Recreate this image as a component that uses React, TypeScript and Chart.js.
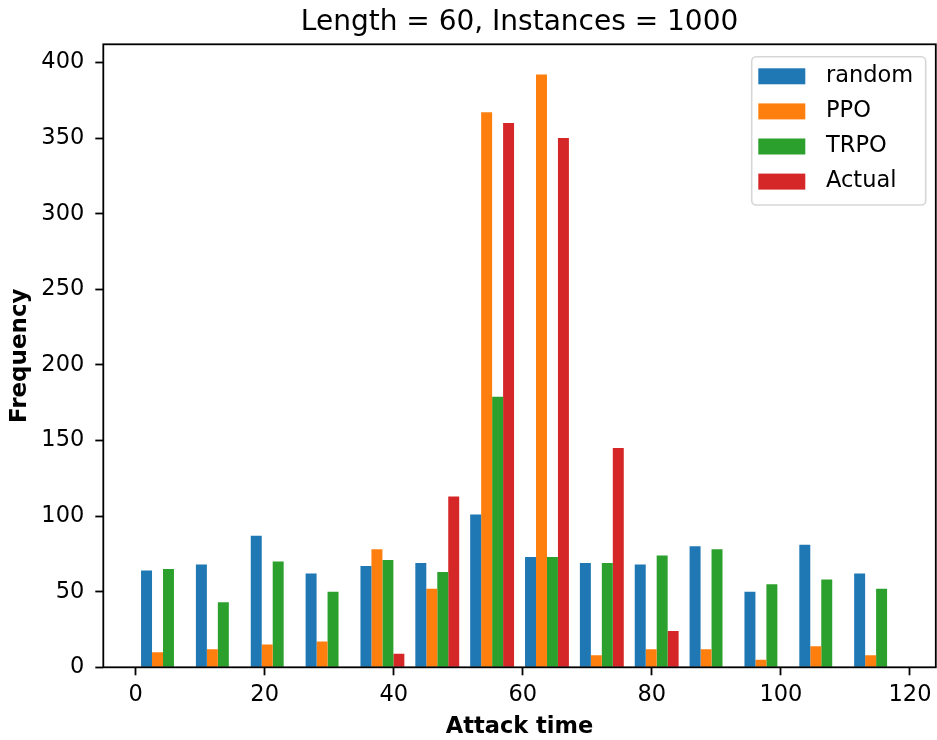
import React, { useEffect, useRef } from 'react';
import { Chart, registerables } from 'chart.js';

Chart.register(...registerables);

// Histogram bins (14 bins over 0..119), centres of each bin
const binCenters = [4.25, 12.75, 21.25, 29.75, 38.25, 46.75, 55.25, 63.75, 72.25, 80.75, 89.25, 97.75, 106.25, 114.75];

const randomCounts = [64, 68, 87, 62, 67, 69, 101, 73, 69, 68, 80, 50, 81, 62];
const ppoCounts = [10, 12, 15, 17, 78, 52, 367, 392, 8, 12, 12, 5, 14, 8];
const trpoCounts = [65, 43, 70, 50, 71, 63, 179, 73, 69, 74, 78, 55, 58, 52];
const actualCounts = [0, 0, 0, 0, 9, 113, 360, 350, 145, 24, 0, 0, 0, 0];

const seriesLabels = ['random', 'PPO', 'TRPO', 'Actual'];
const seriesColors = ['#1f77b4', '#ff7f0e', '#2ca02c', '#d62728'];

const xTicks = [0, 20, 40, 60, 80, 100, 120];
const yTicks = [0, 50, 100, 150, 200, 250, 300, 350, 400];

const titleText = 'Length = 60, Instances = 1000';
const xTitle = 'Attack time';
const yTitle = 'Frequency';

const FONT = "'DejaVu Sans', sans-serif";

function roundRectPath(ctx: CanvasRenderingContext2D, x: number, y: number, w: number, h: number, r: number) {
  ctx.beginPath();
  ctx.moveTo(x + r, y);
  ctx.lineTo(x + w - r, y);
  ctx.arcTo(x + w, y, x + w, y + r, r);
  ctx.lineTo(x + w, y + h - r);
  ctx.arcTo(x + w, y + h, x + w - r, y + h, r);
  ctx.lineTo(x + r, y + h);
  ctx.arcTo(x, y + h, x, y + h - r, r);
  ctx.lineTo(x, y + r);
  ctx.arcTo(x, y, x + r, y, r);
  ctx.closePath();
}

const decorPlugin = {
  id: 'mplDecor',
  afterDatasetsDraw(chart: any) {
    const { ctx, chartArea: a } = chart;
    ctx.save();
    ctx.strokeStyle = '#000';
    ctx.lineWidth = 1.8;
    ctx.strokeRect(a.left, a.top, a.right - a.left, a.bottom - a.top);
    ctx.restore();
  },
  afterDraw(chart: any) {
    const { ctx, chartArea: a } = chart;
    ctx.save();
    // title
    ctx.fillStyle = '#000';
    ctx.font = `28px ${FONT}`;
    ctx.textAlign = 'center';
    ctx.textBaseline = 'alphabetic';
    ctx.fillText(titleText, (a.left + a.right) / 2, 30);

    // legend
    const bx = 751.7, by = 56.7, bw = 174, bh = 148.3;
    roundRectPath(ctx, bx, by, bw, bh, 4.5);
    ctx.fillStyle = 'rgba(255,255,255,0.8)';
    ctx.fill();
    ctx.strokeStyle = 'rgba(204,204,204,0.8)';
    ctx.lineWidth = 1.6;
    ctx.stroke();

    ctx.font = `22.5px ${FONT}`;
    ctx.textAlign = 'left';
    ctx.textBaseline = 'middle';
    chart.data.datasets.forEach((ds: any, i: number) => {
      const cy = 76.3 + 35.1 * i;
      ctx.fillStyle = ds.backgroundColor;
      ctx.fillRect(758.3, cy - 8, 47, 16);
      ctx.fillStyle = '#000';
      ctx.fillText(ds.label, 826, cy);
    });
    ctx.restore();
  },
};

export default function App() {
  const canvasRef = useRef<HTMLCanvasElement | null>(null);

  useEffect(() => {
    const canvas = canvasRef.current;
    if (!canvas) return;
    const seriesData = [randomCounts, ppoCounts, trpoCounts, actualCounts];
    const chart = new Chart(canvas, {
      type: 'bar',
      data: {
        datasets: seriesData.map((arr, i) => ({
          label: seriesLabels[i],
          data: binCenters.map((x, j) => ({ x, y: arr[j] })),
          backgroundColor: seriesColors[i],
          borderWidth: 0,
          categoryPercentage: 0.8,
          barPercentage: 1.0,
        })),
      },
      options: {
        responsive: false,
        animation: false,
        devicePixelRatio: 1,
        layout: { padding: { top: 44.3, right: 1.2, bottom: 0, left: 0 } },
        plugins: {
          legend: { display: false },
          title: { display: false },
          tooltip: { enabled: false },
        },
        scales: {
          x: {
            type: 'linear',
            min: -5,
            max: 124,
            offset: false,
            afterBuildTicks: (s: any) => {
              s.ticks = xTicks.map((v) => ({ value: v }));
            },
            afterFit: (s: any) => {
              s.height = 72.7;
              s.paddingLeft = 0;
              s.paddingRight = 0;
              s.paddingTop = 0;
              s.paddingBottom = 0;
            },
            grid: {
              display: true,
              drawOnChartArea: false,
              drawTicks: true,
              tickLength: 8,
              tickWidth: 1.8,
              tickColor: '#000',
              offset: false,
            },
            border: { display: false },
            ticks: {
              font: { family: FONT, size: 22.5, lineHeight: 1 },
              color: '#000',
              padding: 9,
              maxRotation: 0,
              autoSkip: false,
              callback: (v: any) => String(v),
            },
            title: {
              display: true,
              text: xTitle,
              color: '#000',
              font: { family: FONT, size: 22.5, weight: 'bold', lineHeight: 1 },
              padding: { top: 0, bottom: 1.5 },
            },
          },
          y: {
            type: 'linear',
            min: 0,
            max: 412,
            afterBuildTicks: (s: any) => {
              s.ticks = yTicks.map((v) => ({ value: v }));
            },
            afterFit: (s: any) => {
              s.width = 103.3;
              s.paddingLeft = 0;
              s.paddingRight = 0;
              s.paddingTop = 0;
              s.paddingBottom = 0;
            },
            grid: {
              display: true,
              drawOnChartArea: false,
              drawTicks: true,
              tickLength: 8,
              tickWidth: 1.8,
              tickColor: '#000',
            },
            border: { display: false },
            ticks: {
              font: { family: FONT, size: 22.5, lineHeight: 1 },
              color: '#000',
              padding: 11,
              autoSkip: false,
              callback: (v: any) => String(v),
            },
            title: {
              display: true,
              text: yTitle,
              color: '#000',
              font: { family: FONT, size: 23, weight: 'bold', lineHeight: 1 },
              padding: { top: 9, bottom: 0 },
            },
          },
        },
      } as any,
      plugins: [decorPlugin],
    });
    return () => chart.destroy();
  }, []);

  return (
    <div style={{ position: 'fixed', left: 0, top: 0, width: 937, height: 740, background: '#fff' }}>
      <canvas ref={canvasRef} width={937} height={740} style={{ display: 'block', width: 937, height: 740 }} />
    </div>
  );
}
